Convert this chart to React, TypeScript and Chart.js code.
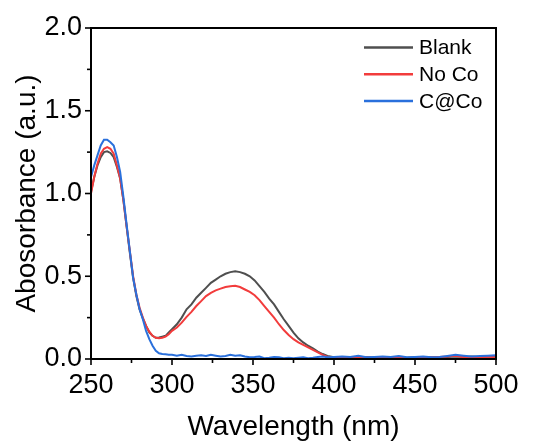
import React, { useEffect, useRef } from "react";
import { Chart, registerables } from "chart.js";
Chart.register(...registerables);

const wavelengths = [
  250, 252, 254, 256, 258, 260, 262, 264, 266, 268, 270, 272, 274, 276, 278, 280, 282, 284, 286, 288, 290, 292, 294, 296, 298, 300,
  303, 306, 309, 312, 315, 318, 321, 324, 327, 330, 333, 336, 339, 342, 345, 348, 351, 354, 357, 360, 363, 366, 369, 372, 375, 378,
  381, 384, 387, 390, 393, 396, 400, 405, 410, 415, 420, 425, 430, 435, 440, 445, 450, 455, 460, 465, 470, 475, 480, 485, 490, 495, 500,
];

const blank = [
  1.01, 1.1, 1.17, 1.22, 1.25, 1.255, 1.245, 1.22, 1.16, 1.09, 0.96, 0.8, 0.64, 0.49, 0.38, 0.3, 0.245, 0.2, 0.16, 0.14, 0.128, 0.13, 0.135, 0.14, 0.16, 0.18,
  0.21, 0.25, 0.3, 0.33, 0.37, 0.4, 0.43, 0.46, 0.48, 0.5, 0.515, 0.525, 0.53, 0.525, 0.515, 0.5, 0.475, 0.44, 0.405, 0.365,
  0.33, 0.285, 0.24, 0.2, 0.16, 0.125, 0.1, 0.08, 0.065, 0.045, 0.03, 0.018, 0.01,
  0.012, 0.01, 0.01, 0.012, 0.008, 0.01, 0.012, 0.01, 0.008, 0.01, 0.012, 0.01, 0.01, 0.012, 0.015, 0.012, 0.015, 0.012, 0.015, 0.015,
];

const noCo = [
  1.0, 1.1, 1.18, 1.24, 1.27, 1.28, 1.27, 1.24, 1.17, 1.09, 0.96, 0.8, 0.65, 0.5, 0.39, 0.31, 0.25, 0.2, 0.165, 0.14, 0.128, 0.125, 0.128, 0.135, 0.15, 0.17,
  0.19, 0.22, 0.255, 0.285, 0.32, 0.35, 0.38, 0.4, 0.415, 0.425, 0.435, 0.44, 0.442, 0.435, 0.42, 0.405, 0.385, 0.356, 0.32, 0.285,
  0.25, 0.21, 0.175, 0.145, 0.12, 0.1, 0.085, 0.07, 0.055, 0.04, 0.025, 0.012, 0.008,
  0.008, 0.006, 0.008, 0.01, 0.006, 0.008, 0.008, 0.01, 0.006, 0.008, 0.008, 0.01, 0.012, 0.015, 0.02, 0.01, 0.008, 0.01, 0.012, 0.01,
];

const cAtCo = [
  1.1, 1.17, 1.23, 1.29, 1.325, 1.325, 1.31, 1.29, 1.22, 1.13, 0.98, 0.81, 0.65, 0.49, 0.39, 0.3, 0.24, 0.17, 0.12, 0.08, 0.05, 0.035, 0.03, 0.028, 0.025, 0.025,
  0.02, 0.025, 0.018, 0.015, 0.02, 0.022, 0.018, 0.025, 0.02, 0.015, 0.018, 0.025, 0.02, 0.022, 0.015, 0.01, 0.012, 0.015, 0.005, 0.008,
  0.012, 0.01, 0.005, 0.008, 0.005, 0.008, 0.01, 0.005, 0.008, 0.012, 0.015, 0.01, 0.012,
  0.015, 0.012, 0.02, 0.01, 0.012, 0.015, 0.012, 0.018, 0.01, 0.012, 0.015, 0.01, 0.012, 0.018, 0.025, 0.02, 0.015, 0.018, 0.02, 0.022,
];

const seriesNames = ["Blank", "No Co", "C@Co"];
const seriesColors = ["#4f4f4f", "#f23c3c", "#2a70dc"];
const seriesValues = [blank, noCo, cAtCo];

const xTitle = "Wavelength (nm)";
const yTitle = "Abosorbance (a.u.)";

const FONT = "'Liberation Sans', Arial, sans-serif";

const framePlugin = {
  id: "frame",
  afterDraw(chart: any) {
    const { ctx, chartArea: a, scales } = chart;
    ctx.save();
    ctx.strokeStyle = "#000";
    ctx.lineWidth = 2;
    ctx.strokeRect(a.left, a.top, a.right - a.left, a.bottom - a.top);
    ctx.lineWidth = 1.6;
    scales.x.ticks.forEach((t: any) => {
      const px = scales.x.getPixelForValue(t.value);
      const len = t.value % 50 === 0 ? 6 : 4;
      ctx.beginPath();
      ctx.moveTo(px, a.bottom);
      ctx.lineTo(px, a.bottom + len);
      ctx.stroke();
    });
    scales.y.ticks.forEach((t: any) => {
      const py = scales.y.getPixelForValue(t.value);
      const major = Math.abs(t.value / 0.5 - Math.round(t.value / 0.5)) < 1e-6;
      const len = major ? 6 : 4;
      ctx.beginPath();
      ctx.moveTo(a.left, py);
      ctx.lineTo(a.left - len, py);
      ctx.stroke();
    });
    // legend
    ctx.font = `21px ${FONT}`;
    ctx.textBaseline = "middle";
    ctx.textAlign = "left";
    seriesNames.forEach((name, i) => {
      const y = 47.5 + i * 26.8;
      ctx.strokeStyle = seriesColors[i];
      ctx.lineWidth = 2.5;
      ctx.beginPath();
      ctx.moveTo(364, y);
      ctx.lineTo(413, y);
      ctx.stroke();
      ctx.fillStyle = "#000";
      ctx.fillText(name, 419, y + 1);
    });
    ctx.restore();
  },
};

export default function App() {
  const ref = useRef<HTMLCanvasElement | null>(null);
  useEffect(() => {
    document.body.style.margin = "0";
    const canvas = ref.current;
    if (!canvas) return;
    const datasets = seriesNames.map((name, i) => ({
      label: name,
      data: wavelengths.map((w, j) => ({ x: w, y: seriesValues[i][j] })),
      borderColor: seriesColors[i],
      backgroundColor: seriesColors[i],
      borderWidth: 2,
      pointRadius: 0,
      tension: 0,
      order: 3 - i,
    }));
    const chart = new Chart(canvas, {
      type: "line",
      data: { datasets },
      options: {
        responsive: false,
        animation: false,
        layout: { padding: { left: 0, top: 28, right: 37, bottom: 0 } },
        plugins: { legend: { display: false }, tooltip: { enabled: false } },
        scales: {
          x: {
            type: "linear",
            min: 250,
            max: 500,
            grid: { display: false, drawTicks: false, tickLength: 0 },
            border: { display: false },
            ticks: {
              stepSize: 25,
              autoSkip: false,
              maxRotation: 0,
              padding: 10,
              color: "#000",
              font: { family: FONT, size: 27 },
              callback: (v: any) => (Number(v) % 50 === 0 ? String(v) : ""),
            },
            title: {
              display: true,
              text: xTitle,
              color: "#000",
              font: { family: FONT, size: 28, lineHeight: 1.0 },
              padding: { top: 0, bottom: 0 },
            },
            afterFit: (s: any) => {
              s.height = 82;
            },
          },
          y: {
            type: "linear",
            min: 0,
            max: 2,
            grid: { display: false, drawTicks: false, tickLength: 0 },
            border: { display: false },
            ticks: {
              stepSize: 0.25,
              autoSkip: false,
              padding: 9,
              color: "#000",
              font: { family: FONT, size: 27 },
              callback: (v: any) => {
                const n = Number(v);
                return Math.abs(n / 0.5 - Math.round(n / 0.5)) < 1e-6 ? n.toFixed(1) : "";
              },
            },
            title: {
              display: true,
              text: yTitle,
              color: "#000",
              font: { family: FONT, size: 28 },
              padding: { top: 10.5, bottom: 0 },
            },
            afterFit: (s: any) => {
              s.width = 91;
            },
          },
        },
      },
      plugins: [framePlugin],
    });
    return () => chart.destroy();
  }, []);
  return (
    <div style={{ position: "absolute", left: 0, top: 0, width: 533, height: 441 }}>
      <canvas ref={ref} width={533} height={441} />
    </div>
  );
}
